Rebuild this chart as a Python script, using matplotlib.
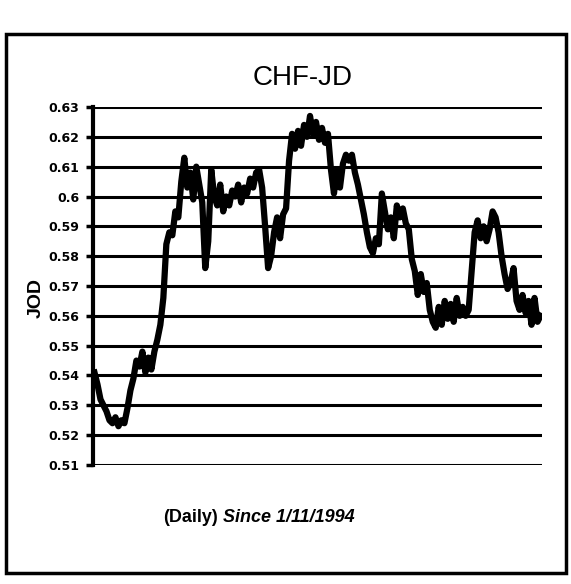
import matplotlib.pyplot as plt
from matplotlib.patches import Rectangle
import numpy as np

# CHF in JOD, daily since 1/11/1994
chf_jod = [
    0.541, 0.537, 0.532, 0.530, 0.528, 0.525, 0.524, 0.526, 0.523, 0.525,
    0.524, 0.529, 0.535, 0.539, 0.545, 0.543, 0.548, 0.541, 0.546, 0.542,
    0.548, 0.552, 0.557, 0.566, 0.584, 0.588, 0.587, 0.595, 0.593, 0.605,
    0.613, 0.603, 0.608, 0.599, 0.610, 0.604, 0.598, 0.576, 0.585, 0.609,
    0.600, 0.597, 0.604, 0.595, 0.600, 0.597, 0.602, 0.600, 0.604, 0.598,
    0.603, 0.601, 0.606, 0.603, 0.608, 0.609, 0.603, 0.590, 0.576, 0.580,
    0.588, 0.593, 0.586, 0.594, 0.596, 0.612, 0.621, 0.616, 0.622, 0.617,
    0.624, 0.620, 0.627, 0.621, 0.625, 0.619, 0.623, 0.618, 0.621, 0.609,
    0.601, 0.609, 0.603, 0.611, 0.614, 0.612, 0.614, 0.608, 0.604, 0.599,
    0.594, 0.588, 0.583, 0.581, 0.586, 0.584, 0.601, 0.595, 0.589, 0.593,
    0.586, 0.597, 0.593, 0.596, 0.591, 0.589, 0.579, 0.575, 0.567, 0.574,
    0.568, 0.571, 0.562, 0.558, 0.556, 0.563, 0.557, 0.565, 0.559, 0.564,
    0.558, 0.566, 0.560, 0.563, 0.560, 0.562, 0.575, 0.588, 0.592, 0.586,
    0.590, 0.585, 0.589, 0.595, 0.593, 0.588, 0.580, 0.574, 0.569, 0.571,
    0.576, 0.565, 0.562, 0.567, 0.561, 0.565, 0.557, 0.566, 0.558, 0.560,
]
y_ticks = [0.51, 0.52, 0.53, 0.54, 0.55, 0.56, 0.57, 0.58, 0.59, 0.6,
           0.61, 0.62, 0.63]
y_labels = ["0.51", "0.52", "0.53", "0.54", "0.55", "0.56", "0.57", "0.58",
            "0.59", "0.6", "0.61", "0.62", "0.63"]

plt.rcParams['font.family'] = ['Liberation Sans', 'DejaVu Sans']

W, H = 571, 584
fig = plt.figure(figsize=(W / 100, H / 100), dpi=100)
fig.patch.set_facecolor('white')

# outer frame of the scanned box
fig.patches.append(Rectangle((6 / W, 1 - 573 / H), 560 / W, 539 / H,
                             transform=fig.transFigure, fill=False,
                             edgecolor='black', linewidth=2.5))

ax = fig.add_axes([93 / W, 1 - 465 / H, 449 / W, 358 / H])
days = np.arange(len(chf_jod))
ax.plot(days, chf_jod, color='black', linewidth=4.5, solid_joinstyle='round')

ax.set_ylim(0.51, 0.63)
ax.set_xlim(-0.5, len(chf_jod) - 0.5)
ax.set_yticks(y_ticks)
ax.set_yticklabels(y_labels, fontsize=9, fontweight='bold',
                   family='Liberation Sans Narrow')
ax.set_xticks([])
for t in y_ticks:
    ax.axhline(t, color='black', linewidth=2.2, zorder=1)

for s in ['top', 'right', 'bottom']:
    ax.spines[s].set_visible(False)
ax.spines['left'].set_linewidth(3)
ax.tick_params(axis='y', direction='out', length=5, width=2.5, pad=5)

fig.text(303 / W, 1 - 78 / H, "CHF-JD", fontsize=20, ha='center', va='center')
fig.text(36 / W, 1 - 298 / H, "JOD", fontsize=14, fontweight='bold',
         rotation=90, ha='center', va='center')
fig.text(218 / W, 1 - 518 / H, "(Daily)", fontsize=13, fontweight='bold',
         ha='right', va='center')
fig.text(223 / W, 1 - 518 / H, "Since 1/11/1994", fontsize=13,
         fontweight='bold', style='italic', ha='left', va='center')

fig.savefig('out.png', dpi=100)
